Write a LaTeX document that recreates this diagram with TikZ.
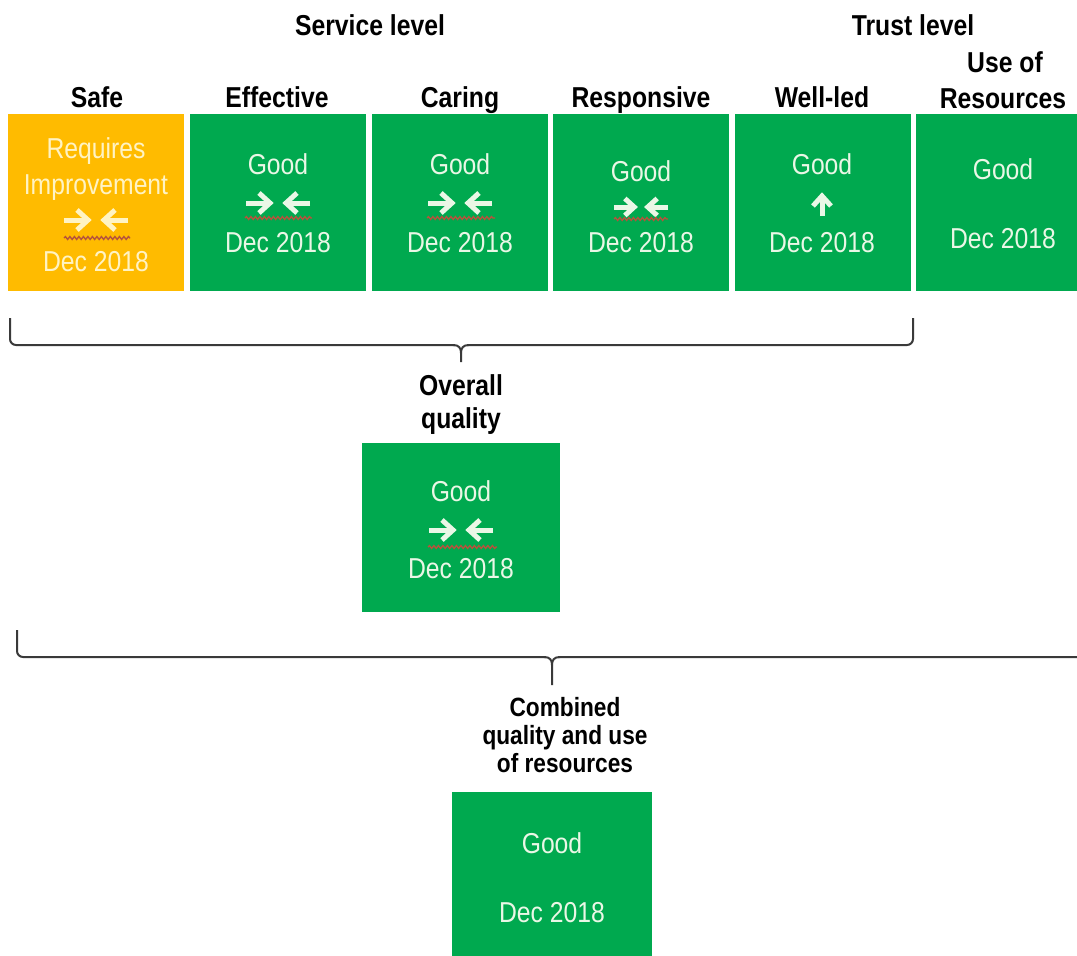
\documentclass[tikz,border=0pt]{standalone}
\usepackage{fontspec}
\setmainfont{Liberation Sans}
\usetikzlibrary{decorations.pathmorphing}
\definecolor{cqcgreen}{HTML}{00A94F}
\definecolor{cqcamber}{HTML}{FFBB00}
\definecolor{gtxt}{HTML}{EAF7E6}
\definecolor{atxt}{HTML}{FFF3C4}
\definecolor{brc}{HTML}{3A3A3A}
\definecolor{squig}{HTML}{B5533C}
\newcommand\vs[1]{\scalebox{1.03}[1.2]{#1}}
\begin{document}
\begin{tikzpicture}[x=1pt,y=-1pt,
  rbox/.style={inner sep=0,minimum width=176pt,minimum height=177pt},
  greenbox/.style={rbox,fill=cqcgreen},
  amberbox/.style={rbox,fill=cqcamber},
  head/.style={inner sep=0,anchor=base,text=black,font=\fontsize{24}{28}\selectfont\bfseries},
  smallhead/.style={head,font=\fontsize{22}{26}\selectfont\bfseries},
  gt/.style={inner sep=0,anchor=base,text=gtxt,font=\fontsize{24}{28}\selectfont},
  ambtext/.style={gt,text=atxt},
  brace/.style={draw=brc,line width=2pt,rounded corners=6pt},
  conv/.pic={
    \draw[line width=5pt,draw=#1] (-32,0) -- (-9,0);
    \draw[line width=5pt,draw=#1,line join=miter] (-19,-10) -- (-8,0) -- (-19,10);
    \draw[line width=5pt,draw=#1] (32,0) -- (9,0);
    \draw[line width=5pt,draw=#1,line join=miter] (19,-10) -- (8,0) -- (19,10);
  },
  upar/.pic={
    \draw[line width=5pt,draw=#1] (0,11) -- (0,-8);
    \draw[line width=5pt,draw=#1,line join=miter] (-9,1) -- (0,-9) -- (9,1);
  },
  squiggle/.style={draw=squig,line width=1.4pt,decorate,decoration={snake,segment length=4.5pt,amplitude=1.4pt}}
]
\useasboundingbox (0,0) rectangle (1077,956);
\clip (0,0) rectangle (1077,956);
\fill[white] (0,0) rectangle (1077,956);

% headings
\node[head] (svc) at (370,35) {\vs{Service level}};
\node[head] (trust) at (913,35) {\vs{Trust level}};

% boxes
\node[amberbox] (safe) at (96,202.5) {};
\node[greenbox] (eff) at (278,202.5) {};
\node[greenbox] (car) at (459.5,202.5) {};
\node[greenbox] (resp) at (640.5,202.5) {};
\node[greenbox] (well) at (822.5,202.5) {};
\node[greenbox] (uor) at (1004,202.5) {};

% column labels
\node[head] (lsafe) at (97,107) {\vs{Safe}};
\node[head] (leff) at (277,107) {\vs{Effective}};
\node[head] (lcar) at (460,107) {\vs{Caring}};
\node[head] (lresp) at (641,107) {\vs{Responsive}};
\node[head] (lwell) at (822,107) {\vs{Well-led}};
\node[head] (luor1) at (1005,72) {\vs{Use of}};
\node[head] (luor2) at (1003,108) {\vs{Resources}};

% Safe content
\node[ambtext] (s1) at (96,158) {\vs{Requires}};
\node[ambtext] (s2) at (96,194) {\vs{Improvement}};
\pic at (96,220) {conv=atxt};
\draw[squiggle] (64,238) -- (130,238);
\node[ambtext] (s3) at (96,271) {\vs{Dec 2018}};

% Effective
\node[gt] (e1) at (278,174) {\vs{Good}};
\pic at (278,203) {conv=gtxt};
\draw[squiggle] (245,218) -- (312,218);
\node[gt] (e3) at (278,252) {\vs{Dec 2018}};

% Caring
\node[gt] (c1) at (460,174) {\vs{Good}};
\pic at (460,203) {conv=gtxt};
\draw[squiggle] (427,218) -- (495,218);
\node[gt] (c3) at (460,252) {\vs{Dec 2018}};

% Responsive
\node[gt] (r1) at (641,181) {\vs{Good}};
\pic[scale=0.85] at (641,207) {conv=gtxt};
\draw[squiggle] (614,219) -- (668,219);
\node[gt] (r3) at (641,252) {\vs{Dec 2018}};

% Well-led
\node[gt] (w1) at (822,174) {\vs{Good}};
\pic at (822,205) {upar=gtxt};
\node[gt] (w3) at (822,252) {\vs{Dec 2018}};

% Use of resources
\node[gt] (u1) at (1003,179) {\vs{Good}};
\node[gt] (u3) at (1003,248) {\vs{Dec 2018}};

% first brace
\coordinate (b1l) at (10,318);
\coordinate (b1r) at (913,318);
\coordinate (b1t) at (461,362);
\draw[brace] (b1l) -- (10,345) -- (455,345);
\draw[brace] (b1r) -- (913,345) -- (467,345);
\draw[draw=brc,line width=2pt] (453,345) .. controls (459,345) and (461,348) .. (461,353) -- (b1t);
\draw[draw=brc,line width=2pt] (469,345) .. controls (463,345) and (461,348) .. (461,353);

% overall quality
\node[head] (oq1) at (461,395) {\vs{Overall}};
\node[head] (oq2) at (461,428) {\vs{quality}};
\node[greenbox,minimum width=198pt,minimum height=169pt] (overall) at (461,527.5) {};
\node[gt] (o1) at (461,501) {\vs{Good}};
\pic at (461,530) {conv=gtxt};
\draw[squiggle] (428,547) -- (497,547);
\node[gt] (o3) at (461,578) {\vs{Dec 2018}};

% second brace
\coordinate (b2l) at (17,630);
\coordinate (b2r) at (1090,630);
\coordinate (b2t) at (552,685);
\draw[brace] (b2l) -- (17,657) -- (546,657);
\draw[brace] (b2r) -- (1090,657) -- (558,657);
\draw[draw=brc,line width=2pt] (544,657) .. controls (550,657) and (552,660) .. (552,665) -- (b2t);
\draw[draw=brc,line width=2pt] (560,657) .. controls (554,657) and (552,660) .. (552,665);

% combined
\node[smallhead] (cq1) at (565,716) {\vs{Combined}};
\node[smallhead] (cq2) at (565,744) {\vs{quality and use}};
\node[smallhead] (cq3) at (565,772) {\vs{of resources}};
\node[greenbox,minimum width=200pt,minimum height=170pt] (comb) at (552,877) {};
\node[gt] (cb1) at (552,853) {\vs{Good}};
\node[gt] (cb3) at (552,922) {\vs{Dec 2018}};
\end{tikzpicture}
\end{document}
